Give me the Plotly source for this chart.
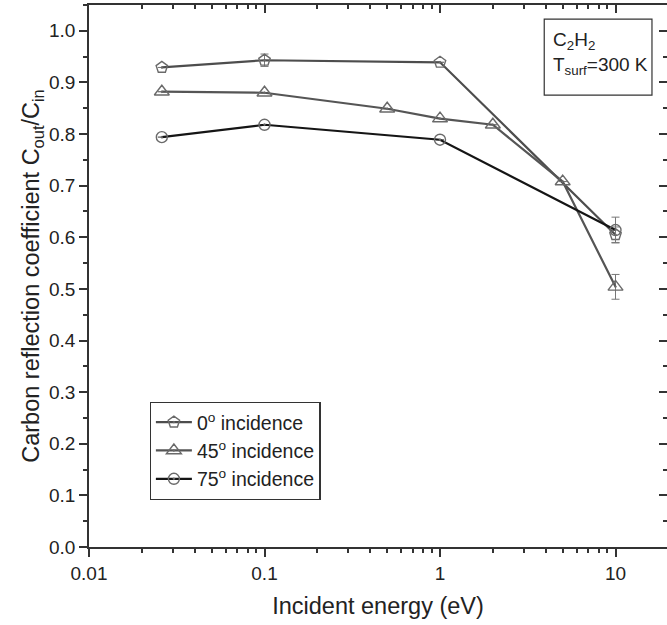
import numpy as np
import plotly.graph_objects as go

# Incident energies (eV) and carbon reflection coefficients for C2H2 at T_surf = 300 K
energy_0 = [0.026, 0.1, 1.0, 10.0]
refl_0 = [0.929, 0.943, 0.939, 0.605]
err_0 = [0.0, 0.012, 0.0, 0.015]

energy_45 = [0.026, 0.1, 0.5, 1.0, 2.0, 5.0, 10.0]
refl_45 = [0.882, 0.880, 0.849, 0.830, 0.818, 0.708, 0.504]
err_45 = [0.0, 0.0, 0.0, 0.0, 0.0, 0.0, 0.024]

energy_75 = [0.026, 0.1, 1.0, 10.0]
refl_75 = [0.794, 0.818, 0.789, 0.614]
err_75 = [0.0, 0.0, 0.0, 0.025]

series_names = ["0<sup>o</sup> incidence", "45<sup>o</sup> incidence", "75<sup>o</sup> incidence"]

x_major = [0.01, 0.1, 1, 10]
x_major_text = ["0.01", "0.1", "1", "10"]
x_minor = [m * d for d in (0.01, 0.1, 1, 10) for m in range(2, 10)]

FONT = "Liberation Sans, Arial, sans-serif"
TXT = "#222222"
AX = "#333333"
X_RANGE = [-2, np.log10(19.65)]
Y_RANGE = [0, 1.05]

fig = go.Figure()

styles = [
    (energy_0, refl_0, err_0, series_names[0], "pentagon-open-dot", 12, "#4d4d4d"),
    (energy_45, refl_45, err_45, series_names[1], "triangle-up-open-dot", 13, "#555555"),
    (energy_75, refl_75, err_75, series_names[2], "circle-open-dot", 11, "#151515"),
]
for xs, ys, es, name, sym, size, lc in styles:
    fig.add_trace(go.Scatter(
        x=xs, y=ys, name=name, mode="lines+markers",
        line=dict(color=lc, width=2.2),
        marker=dict(symbol=sym, size=size, color="#6a6a6a",
                    line=dict(color="#6a6a6a", width=1.4)),
        error_y=dict(type="data", array=es, visible=True,
                     color="#777777", thickness=1, width=4),
    ))

# helper trace that carries the mirrored top/right axes
fig.add_trace(go.Scatter(x=[1], y=[0.5], xaxis="x2", yaxis="y2", mode="markers",
                         marker=dict(opacity=0), showlegend=False, hoverinfo="skip"))

fig.update_layout(
    width=667, height=625,
    margin=dict(l=89, r=0, t=5, b=78),
    paper_bgcolor="white", plot_bgcolor="white",
    font=dict(family=FONT, size=19, color=TXT),
    xaxis=dict(
        type="log", range=X_RANGE,
        tickmode="array", tickvals=x_major, ticktext=x_major_text,
        ticks="outside", ticklen=8, tickwidth=1.5, tickcolor=AX,
        minor=dict(tickmode="array", tickvals=x_minor, ticks="outside",
                   ticklen=4, tickwidth=1.5, tickcolor=AX, showgrid=False),
        showline=True, linecolor=AX, linewidth=1.5,
        showgrid=False, zeroline=False,
        tickfont=dict(size=19, color=TXT),
        title=dict(text="Incident energy (eV)", font=dict(size=23.5, color=TXT), standoff=15),
    ),
    yaxis=dict(
        range=Y_RANGE, tickmode="linear", tick0=0, dtick=0.1, tickformat=".1f",
        ticks="outside", ticklen=8, tickwidth=1.5, tickcolor=AX,
        minor=dict(dtick=0.05, ticks="outside", ticklen=4, tickwidth=1.5,
                   tickcolor=AX, showgrid=False),
        showline=True, linecolor=AX, linewidth=1.5,
        showgrid=False, zeroline=False,
        tickfont=dict(size=19, color=TXT),
        title=dict(text="Carbon reflection coefficient C<sub>out</sub>/C<sub>in</sub>",
                   font=dict(size=23.5, color=TXT), standoff=3),
    ),
    xaxis2=dict(
        type="log", range=X_RANGE, overlaying="x", side="top", anchor="y2",
        tickmode="array", tickvals=x_major, ticktext=["", "", "", ""],
        ticks="inside", ticklen=8, tickwidth=1.5, tickcolor=AX,
        minor=dict(tickmode="array", tickvals=x_minor, ticks="inside",
                   ticklen=4, tickwidth=1.5, tickcolor=AX, showgrid=False),
        showline=True, linecolor=AX, linewidth=1.5,
        showgrid=False, zeroline=False, showticklabels=False,
    ),
    yaxis2=dict(
        range=Y_RANGE, overlaying="y", side="right", anchor="x2",
        tickmode="linear", tick0=0, dtick=0.1,
        ticks="inside", ticklen=8, tickwidth=1.5, tickcolor=AX,
        minor=dict(dtick=0.05, ticks="inside", ticklen=4, tickwidth=1.5,
                   tickcolor=AX, showgrid=False),
        showline=False, showgrid=False, zeroline=False, showticklabels=False,
    ),
    legend=dict(
        x=0.105, y=0.268, xanchor="left", yanchor="top",
        bgcolor="white", bordercolor=AX, borderwidth=1.2,
        font=dict(size=19.5, color=TXT), tracegroupgap=0, itemwidth=36,
    ),
    shapes=[dict(
        type="rect", xref="paper", yref="paper",
        x0=0.7876, x1=0.974, y0=0.8338, y1=0.974,
        line=dict(color=AX, width=1.2), fillcolor="white", layer="above",
    )],
    annotations=[
        dict(xref="paper", yref="paper", x=0.7995, y=0.960,
             xanchor="left", yanchor="top", align="left", showarrow=False,
             text="C<sub>2</sub>H<sub>2</sub>", font=dict(size=19, color=TXT)),
        dict(xref="paper", yref="paper", x=0.7995, y=0.913,
             xanchor="left", yanchor="top", align="left", showarrow=False,
             text="T<sub>surf</sub>=300 K", font=dict(size=19, color=TXT)),
    ],
    showlegend=True,
)

fig.write_html("out.html")
